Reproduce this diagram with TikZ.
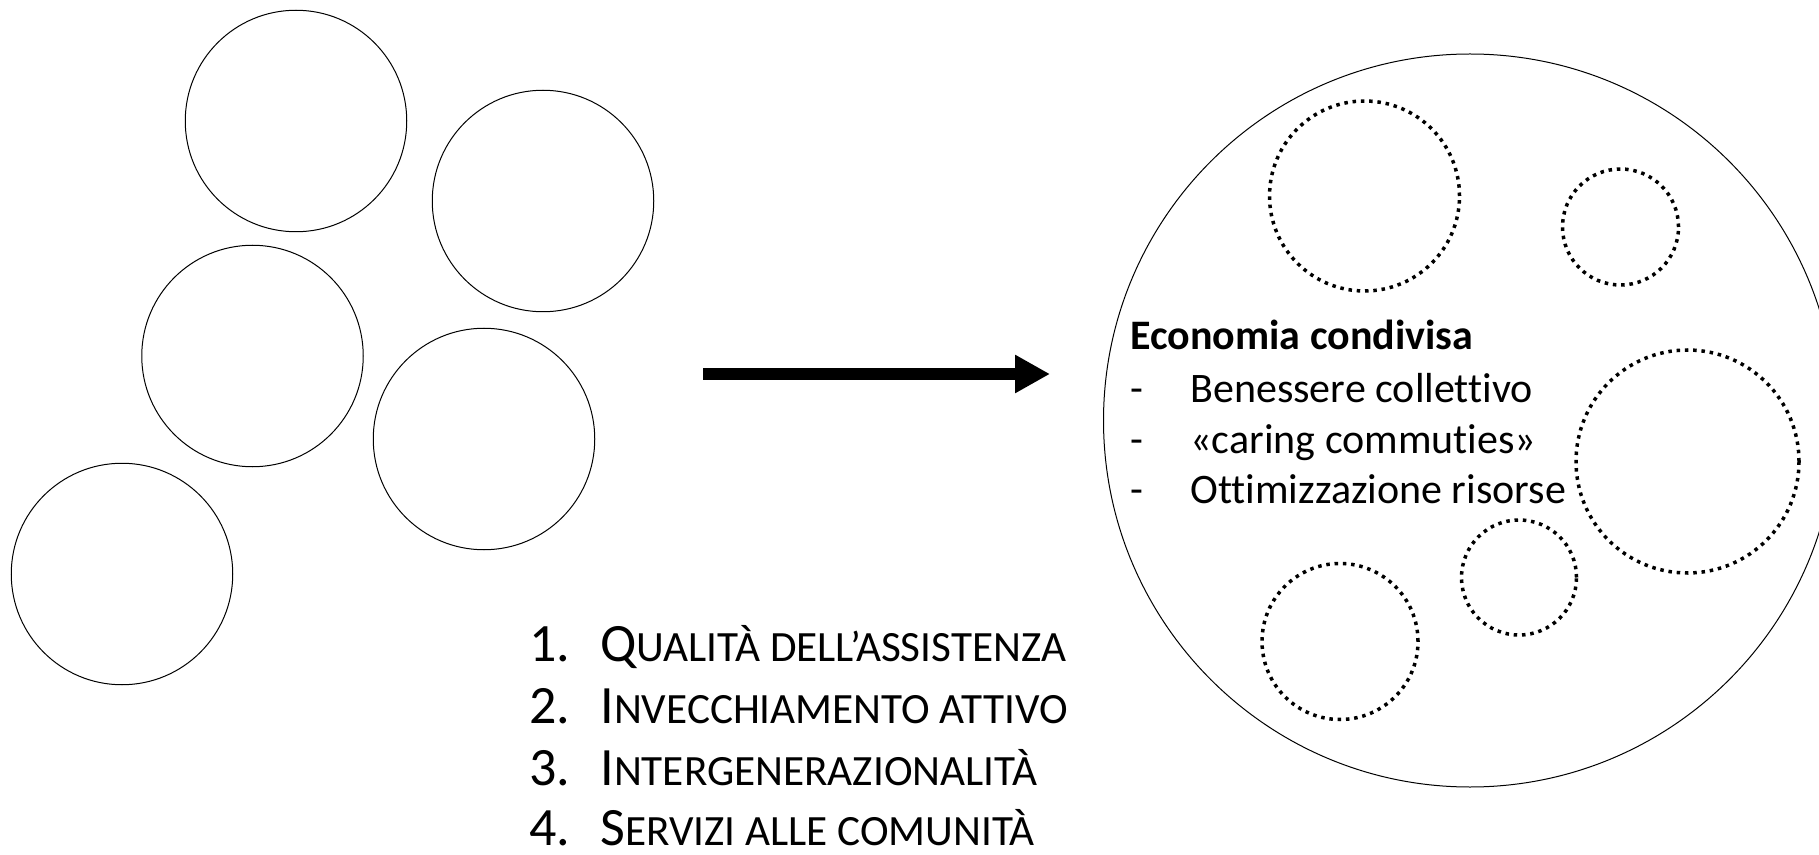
\documentclass[tikz,border=0pt]{standalone}
\usepackage{fontspec}
\setmainfont{Carlito}[Ligatures={TeX,NoCommon}]
\usetikzlibrary{arrows.meta}
\newcommand{\petit}[1]{{\fontsize{21.6pt}{32pt}\selectfont #1}}

\begin{document}
\begin{tikzpicture}[x=0.5pt, y=-0.5pt,
    bubble/.style={draw, circle, line width=0.5pt, inner sep=0pt, minimum size=#1},
    dotbubble/.style={draw, circle, line width=1.75pt, dash pattern=on 1.75pt off 2.4pt, inner sep=0pt, minimum size=#1},
    listitem/.style={anchor=base west, inner sep=0pt, font=\fontsize{27pt}{32pt}\selectfont},
    sharetext/.style={anchor=base west, inner sep=0pt, font=\fontsize{21pt}{25pt}\selectfont}]
    \useasboundingbox (0, 0) rectangle (1819, 855) ;
    \clip (0, 0) rectangle (1819, 855) ;
    \node[bubble=110.75pt] (a1) at (296, 121) {} ;
    \node[bubble=110.75pt] (a2) at (543, 201) {} ;
    \node[bubble=110.75pt] (a3) at (252.5, 356) {} ;
    \node[bubble=110.75pt] (a4) at (484, 439) {} ;
    \node[bubble=110.75pt] (a5) at (122, 574) {} ;
    \coordinate (start) at (703, 374) ;
    \coordinate (end) at (1050, 374) ;
    \draw[line width=6pt, -{Triangle[length=17.5pt, width=18pt]}] (start) -- (end) ;
    \node[listitem] (q1) at (529, 661) {\makebox[35.5pt][l]{1.}Q\petit{UALITÀ DELL’ASSISTENZA}} ;
    \node[listitem] (q2) at (529, 723) {\makebox[35.5pt][l]{2.}I\petit{NVECCHIAMENTO ATTIVO}} ;
    \node[listitem] (q3) at (529, 785) {\makebox[35.5pt][l]{3.}I\petit{NTERGENERAZIONALITÀ}} ;
    \node[listitem] (q4) at (529, 845) {\makebox[35.5pt][l]{4.}S\petit{ERVIZI ALLE COMUNITÀ}} ;
    \node[bubble=366.5pt] (big) at (1470, 420.5) {} ;
    \node[dotbubble=95pt] (d1) at (1364.5, 196) {} ;
    \node[dotbubble=58pt] (d2) at (1620.5, 227) {} ;
    \node[dotbubble=111.5pt] (d3) at (1687.5, 461.5) {} ;
    \node[dotbubble=57.5pt] (d4) at (1519, 577.5) {} ;
    \node[dotbubble=78pt] (d5) at (1340, 641.5) {} ;
    \node[sharetext] (eco) at (1130, 350) {\textbf{Economia condivisa}} ;
    \node[sharetext] (p1) at (1130, 402) {\makebox[30pt][l]{-}Benessere collettivo} ;
    \node[sharetext] (p2) at (1130, 453) {\makebox[30pt][l]{-}«caring commuties»} ;
    \node[sharetext] (p3) at (1130, 503) {\makebox[30pt][l]{-}Ottimizzazione risorse} ;
  \end{tikzpicture}
\end{document}
